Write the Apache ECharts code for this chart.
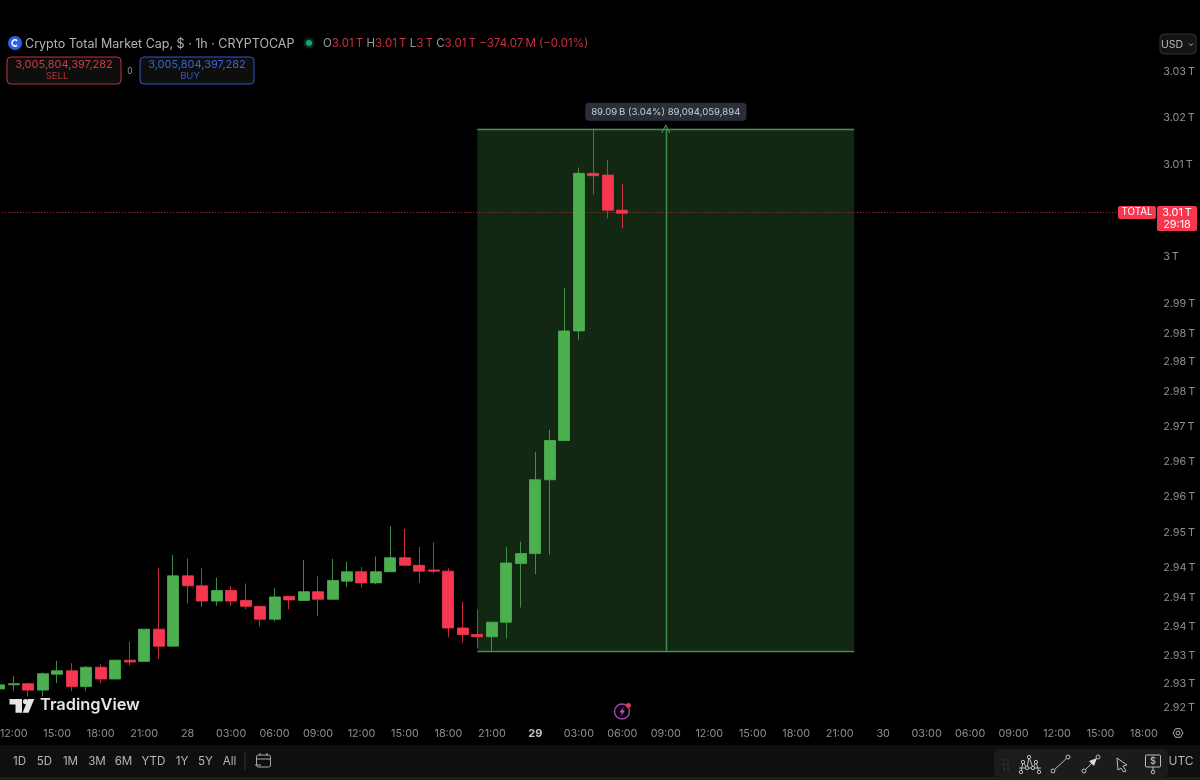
<!DOCTYPE html>
<html>
<head>
<meta charset="utf-8">
<title>Crypto Total Market Cap</title>
<script src="https://cdn.jsdelivr.net/npm/echarts@6/dist/echarts.min.js"></script>
<style>
  html, body { margin: 0; padding: 0; background: #000; overflow: hidden; }
  /* the first candle sits half off the left edge, so the canvas starts 8px early */
  #chart { width: 1208px; height: 780px; margin-left: -8px; }
</style>
</head>
<body>
<div id="chart"></div>
<script>
// hours shown on the time axis, day numbers stand in for 00:00
var categories = [
  '11:00','12:00','13:00','14:00','15:00','16:00','17:00','18:00','19:00','20:00','21:00','22:00','23:00',
  '28','01:00','02:00','03:00','04:00','05:00','06:00','07:00','08:00','09:00','10:00','11:00','12:00',
  '13:00','14:00','15:00','16:00','17:00','18:00','19:00','20:00','21:00','22:00','23:00',
  '29','01:00','02:00','03:00','04:00','05:00','06:00','07:00','08:00','09:00','10:00','11:00','12:00',
  '13:00','14:00','15:00','16:00','17:00','18:00','19:00','20:00','21:00','22:00','23:00',
  '30','01:00','02:00','03:00','04:00','05:00','06:00','07:00','08:00','09:00','10:00','11:00','12:00',
  '13:00','14:00','15:00','16:00','17:00','18:00'
];

// open, close, low, high in billions of USD
var candles = [
  [2924.4,2925.1,2923.4,2926.9],[2925.1,2925.3,2924.1,2926.6],[2925.3,2924.2,2923.1,2925.5],
  [2924.2,2927.0,2923.1,2927.2],[2926.9,2927.5,2925.4,2929.2],[2927.5,2924.8,2924.0,2928.8],
  [2924.8,2928.1,2924.1,2928.3],[2928.1,2926.1,2925.4,2928.6],[2926.1,2929.3,2926.0,2929.4],
  [2929.3,2929.0,2928.4,2932.5],[2929.1,2934.6,2929.1,2934.6],[2934.6,2931.7,2929.5,2945.0],
  [2931.7,2943.7,2931.7,2947.3],[2943.7,2942.0,2939.0,2946.7],[2942.0,2939.4,2938.4,2945.0],
  [2939.4,2941.2,2938.6,2943.4],[2941.2,2939.4,2938.6,2942.0],[2939.5,2938.5,2938.0,2942.4],
  [2938.5,2936.3,2935.1,2938.5],[2936.3,2940.1,2935.9,2941.6],[2940.2,2939.6,2938.0,2940.2],
  [2939.5,2941.0,2939.5,2946.4],[2941.0,2939.7,2936.8,2943.6],[2939.7,2942.9,2939.7,2946.6],
  [2942.8,2944.4,2941.8,2946.1],[2944.4,2942.5,2941.7,2945.2],[2942.5,2944.4,2942.3,2947.0],
  [2944.4,2946.8,2944.4,2952.2],[2946.8,2945.5,2945.5,2951.7],[2945.5,2944.5,2942.5,2948.6],
  [2944.7,2944.5,2944.1,2949.4],[2944.5,2934.8,2933.2,2945.0],[2934.8,2933.7,2932.3,2939.3],
  [2933.7,2933.3,2931.4,2938.0],[2933.3,2935.8,2930.9,2935.8],[2935.8,2945.9,2933.0,2948.6],
  [2945.8,2947.5,2938.3,2949.5],[2947.5,2960.1,2944.0,2964.8],[2960.1,2966.8,2947.3,2968.6],
  [2966.8,2985.5,2966.8,2992.8],[2985.5,3012.4,2984.0,3013.4],[3012.4,3012.0,3008.8,3020.0],
  [3012.1,3006.1,3004.7,3014.7],[3006.1,3005.6,3003.0,3010.6]
];

// price axis, the scale is irregular so ticks and their labels are listed
var priceTicks = [3029.7,3021.8,3013.8,2998.1,2990.1,2985.1,2980.2,2975.1,2969.1,2963.1,2957.2,2951.0,2945.1,2940.0,2935.0,2930.0,2925.2,2921.2];
var priceLabels = ['3.03\u2009T','3.02\u2009T','3.01\u2009T','3\u2009T','2.99\u2009T','2.98\u2009T','2.98\u2009T','2.98\u2009T','2.97\u2009T','2.96\u2009T','2.96\u2009T','2.95\u2009T','2.94\u2009T','2.94\u2009T','2.94\u2009T','2.93\u2009T','2.93\u2009T','2.92\u2009T'];

// price range measure tool
var lastPrice = 3005.8;
var measureTop = 3020.0;
var measureBottom = 2930.9;
var measureFrom = 33;
var measureTo = 59;
var measureMid = 46;
var measureText = '89.09\u2009B (3.04%) 89,094,059,894';

var ranges = ['1D','5D','1M','3M','6M','YTD','1Y','5Y','All'];
var rangeX = [19.5,44.5,70.5,97,123.5,153.5,182,205.5,229.5];

var FONT = 'Inter, "Noto Sans", sans-serif';
var GREEN = '#4caf50';
var RED = '#f7374f';
var LINE_GREEN = '#43934a';
var GRAY = '#8e8e8e';

function text(x, y, str, size, fill, align, weight) {
  return { type: 'text', silent: true, z: 20, x: x, y: y, style: {
    text: str, fontSize: size, fill: fill, fontFamily: FONT, align: align || 'center',
    verticalAlign: 'middle', fontWeight: weight || 'normal' } };
}
function box(x, y, w, h, fill, stroke, r) {
  return { type: 'rect', silent: true, z: 10, shape: { x: x, y: y, width: w, height: h, r: r || 0 },
    style: { fill: fill, stroke: stroke || null, lineWidth: 1 } };
}
function seg(x1, y1, x2, y2, color, width) {
  return { type: 'line', silent: true, z: 20, shape: { x1: x1, y1: y1, x2: x2, y2: y2 },
    style: { stroke: color || '#bdbdbd', lineWidth: width || 1 } };
}
function dot(x, y, r, fill, stroke, width) {
  return { type: 'circle', silent: true, z: 21, shape: { cx: x, cy: y, r: r },
    style: { fill: fill || '#1b1b1b', stroke: stroke === undefined ? '#bdbdbd' : stroke, lineWidth: width || 1 } };
}
function poly(points, fill, stroke) {
  return { type: 'polygon', silent: true, z: 20, shape: { points: points },
    style: { fill: fill || null, stroke: stroke || null, lineWidth: 1 } };
}

var chrome = [
  // bottom bar
  box(0, 745, 1200, 32, '#0f0f0f'),
  box(0, 777, 1200, 3, '#1d1d1d'),
  // legend
  dot(15, 43, 7, '#2f62e8', null),
  { type: 'arc', silent: true, z: 22, shape: { cx: 15, cy: 43, r: 3, startAngle: 0.8, endAngle: 5.5 }, style: { stroke: '#fff', lineWidth: 1.5, fill: null } },
  text(25, 44, 'Crypto Total Market Cap, $ · 1h · CRYPTOCAP', 12.5, '#b4b4b4', 'left'),
  dot(309, 43, 5.5, '#0b2a22', null),
  dot(309, 43, 3, '#12a57f', null),
  { type: 'text', silent: true, z: 20, x: 323, y: 44, style: {
    text: '{g|O}{r|3.01\u2009T} {g|H}{r|3.01\u2009T} {g|L}{r|3\u2009T} {g|C}{r|3.01\u2009T} {r|−374.07\u2009M (−0.01%)}',
    verticalAlign: 'middle', fontFamily: FONT,
    rich: { g: { fill: '#9a9a9a', fontSize: 11.5, fontFamily: FONT }, r: { fill: '#c8323f', fontSize: 11.5, fontFamily: FONT } } } },
  // sell and buy buttons
  box(7, 57, 114, 27, '#0e0e0e', '#b8343e', 4),
  text(64, 65, '3,005,804,397,282', 11, '#c73c46'),
  text(57, 76.5, 'SELL', 9.5, '#b3323c'),
  text(130, 71, '0', 8.5, '#999'),
  box(140, 57, 114, 27, '#0e0e0e', '#2f58c4', 4),
  text(197, 65, '3,005,804,397,282', 11, '#3a63d2'),
  text(190, 76.5, 'BUY', 9.5, '#3357bb'),
  // currency button
  box(1160, 34, 36, 20, '#141414', '#333', 4),
  text(1172, 44.5, 'USD', 10.5, '#b4b4b4'),
  { type: 'polyline', silent: true, z: 20, shape: { points: [[1189, 43.5], [1191, 45.5], [1193, 43.5]] }, style: { stroke: '#b4b4b4', fill: null, lineWidth: 1 } },
  // TradingView mark
  poly([[9.5,699],[22,699],[22,712.7],[15.5,712.7],[15.5,704.5],[9.5,704.5]], '#e4e4e4'),
  dot(25.5, 701.6, 2.6, '#e4e4e4', null),
  poly([[28,699],[34.3,699],[28.5,712.7],[22.6,712.7]], '#e4e4e4'),
  text(40, 705.5, 'TradingView', 16.4, '#e4e4e4', 'left', 600),
  // lightning badge
  dot(622, 711.5, 7.5, 'transparent', '#a046b8', 1.4),
  poly([[624,706.5],[619.5,712.5],[622,712.5],[620.5,716.5],[625,710.5],[622.5,710.5]], '#d352c8'),
  dot(628.5, 705.5, 2.4, '#f23645', null),
  // settings hexagon
  poly([[1173,733],[1175.5,728.7],[1180.5,728.7],[1183,733],[1180.5,737.3],[1175.5,737.3]], null, '#b4b4b4'),
  dot(1178, 733, 2, 'transparent', '#b4b4b4'),
  // range buttons
  seg(245, 752, 245, 770, '#333'),
  box(256.5, 755, 14, 12, 'transparent', '#a8a8a8', 2),
  seg(256.5, 759, 270.5, 759, '#a8a8a8'),
  seg(260, 753, 260, 756, '#a8a8a8'),
  seg(267, 753, 267, 756, '#a8a8a8'),
  seg(255, 765, 261, 765, '#a8a8a8'),
  // drawing toolbar
  box(994, 749, 174, 28, '#1b1b1b', null, 5),
  text(1181, 761, 'UTC', 12, '#b4b4b4')
];

ranges.forEach(function (r, i) {
  chrome.push(text(rangeX[i], 761.5, r, 11.6, '#b4b4b4'));
});

// grip dots
[0, 1, 2].forEach(function (row) {
  [1004, 1008].forEach(function (x) {
    chrome.push(dot(x, 760 + row * 4.5, 0.7, '#555', null));
  });
});
// pattern tool
[[1021,772,1023,762],[1023,762,1027,768],[1027,768,1029,757],[1029,757,1033,768],[1033,768,1036,762],[1036,762,1039,772],[1019,768,1041,768]].forEach(function (s) {
  chrome.push(seg(s[0], s[1], s[2], s[3]));
});
[[1021,772],[1023,762],[1027,768],[1029,757],[1033,768],[1036,762],[1039,772]].forEach(function (p) {
  chrome.push(dot(p[0], p[1], 1.7));
});
// trend line
chrome.push(seg(1053, 771, 1068, 757), dot(1053, 771, 2), dot(1068, 757, 2));
// arrow line
chrome.push(seg(1084, 771, 1098, 757), dot(1084, 771, 2), dot(1098, 757, 2));
chrome.push(poly([[1097,758],[1089,761],[1094,766]], '#dcdcdc'));
// cursor
chrome.push(poly([[1117,758],[1127,765],[1123,766],[1126,771],[1123.5,772],[1121,768],[1118,770]], '#1b1b1b', '#bdbdbd'));
// price label tool
chrome.push(box(1145.5, 755, 15, 12, '#1b1b1b', '#bdbdbd', 1));
chrome.push(text(1153, 761.5, '$', 9.5, '#d0d0d0'));
chrome.push(seg(1153, 767, 1153, 771), dot(1153, 772, 1.8));

var chart = echarts.init(document.getElementById('chart'));

chart.setOption({
  animation: false,
  backgroundColor: '#000',
  textStyle: { fontFamily: FONT },
  grid: { left: 0, top: 28, width: 1159.2, height: 692 },
  xAxis: {
    type: 'category',
    data: categories,
    boundaryGap: true,
    axisLine: { show: false },
    axisTick: { show: false },
    splitLine: { show: false },
    axisLabel: {
      color: GRAY,
      fontSize: 10.8,
      margin: 8,
      hideOverlap: false,
      interval: function (i, v) {
        return v.length < 3 || parseInt(v, 10) % 3 === 0;
      },
      formatter: function (v) {
        return v === '29' ? '{b|29}' : v;
      },
      rich: { b: { fontWeight: 'bold', color: '#c4c4c4', fontSize: 11 } }
    }
  },
  yAxis: {
    type: 'value',
    position: 'right',
    min: 2919.1,
    max: 3037.2,
    axisLine: { show: false },
    axisTick: { show: false },
    splitLine: { show: false },
    axisLabel: {
      color: GRAY,
      fontSize: 10.8,
      margin: 12,
      padding: [4, 0, 0, 0],
      customValues: priceTicks,
      formatter: function (v) {
        return priceLabels[priceTicks.indexOf(v)];
      }
    }
  },
  series: [{
    type: 'candlestick',
    data: candles,
    barWidth: 11.5,
    clip: true,
    z: 5,
    itemStyle: { color: GREEN, color0: RED, borderColor: GREEN, borderColor0: RED, borderWidth: 0.8 },
    markArea: {
      silent: true,
      z: 1,
      itemStyle: { color: '#132813' },
      data: [[
        { xAxis: measureFrom, yAxis: measureTop },
        { xAxis: measureTo, yAxis: measureBottom }
      ]]
    },
    markLine: {
      silent: true,
      symbol: 'none',
      animation: false,
      label: { show: false },
      emphasis: { disabled: true },
      data: [
        [{ xAxis: measureFrom, yAxis: measureTop, lineStyle: { color: LINE_GREEN, width: 1.4, type: 'solid' } }, { xAxis: measureTo, yAxis: measureTop }],
        [{ xAxis: measureFrom, yAxis: measureBottom, lineStyle: { color: LINE_GREEN, width: 1.4, type: 'solid' } }, { xAxis: measureTo, yAxis: measureBottom }],
        [{ xAxis: measureMid, yAxis: measureBottom, symbol: 'none', lineStyle: { color: LINE_GREEN, width: 1.4, type: 'solid' } },
         { xAxis: measureMid, yAxis: measureTop, symbol: 'path://M0,7 L6,0 L12,7 L11,8 L6,2 L1,8 Z', symbolSize: 9 }],
        [{ xAxis: 0, yAxis: lastPrice, lineStyle: { color: '#a8323c', width: 1, type: [1, 2] } }, { xAxis: categories.length - 1, yAxis: lastPrice }]
      ]
    },
    markPoint: {
      silent: true,
      symbol: 'circle',
      symbolSize: 0,
      animation: false,
      data: [{
        coord: [measureMid, measureTop],
        label: {
          show: true,
          position: 'inside',
          offset: [0, -17],
          formatter: measureText,
          color: '#c8ccd4',
          fontSize: 9.6,
          fontFamily: FONT,
          backgroundColor: '#2a2e39',
          borderRadius: 4,
          padding: [4, 6]
        }
      }]
    }
  }]
});

// price tag follows the last price on the axis
var tagY = chart.convertToPixel({ yAxisIndex: 0 }, lastPrice);
chrome.push(
  box(1118, tagY - 6, 38, 13, RED, null, 2),
  text(1137, tagY + 0.5, 'TOTAL', 9.8, '#fff'),
  box(1157, tagY - 6, 40, 25, RED, null, 2),
  text(1177, tagY + 1, '3.01\u2009T', 10.8, '#fff'),
  text(1177, tagY + 13, '29:18', 10.8, '#fff')
);
chart.setOption({ graphic: { elements: [{ type: 'group', x: 8, y: 0, children: chrome }] } });
</script>
</body>
</html>
